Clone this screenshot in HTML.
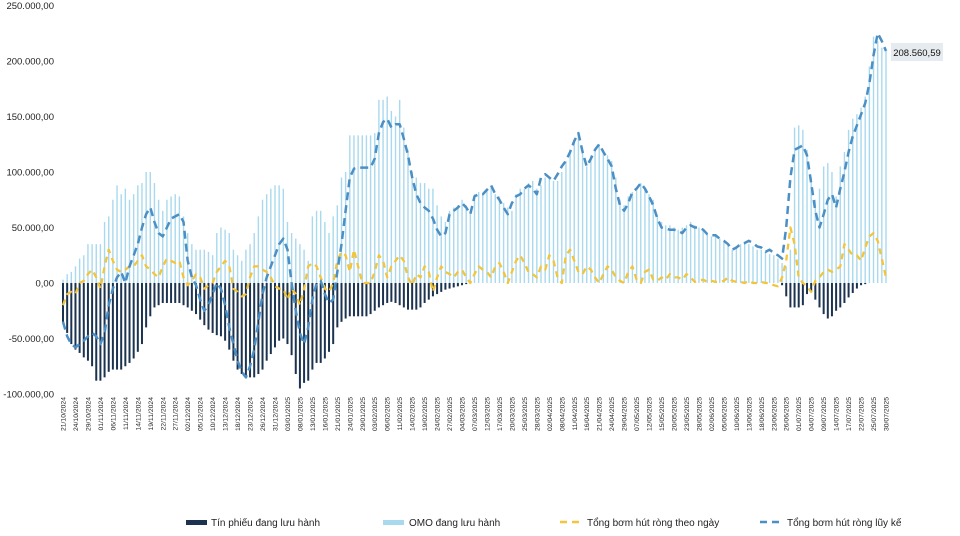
<!DOCTYPE html>
<html><head><meta charset="utf-8"><style>
html,body{margin:0;padding:0;background:#fff;}
svg{display:block;font-family:"Liberation Sans",sans-serif;}
</style></head><body>
<svg id="chart" width="960" height="536" viewBox="0 0 960 536" xmlns="http://www.w3.org/2000/svg">
<g id="yaxis"></g>
<g id="xaxis"></g>
<g id="bars"></g>
<g id="lines"></g>
<g>
<rect x="891" y="43" width="52" height="18" fill="#e6ebf0"/>
<text x="917" y="56" font-size="9.5" text-anchor="middle" fill="#111">208.560,59</text>
</g>
<g font-size="10" fill="#222">
<g><rect x="186" y="520" width="21" height="5" fill="#1c3350"/><text x="211" y="526">Tín phiếu đang lưu hành</text></g>
<g><rect x="383" y="520" width="21" height="5" fill="#a9d9ee"/><text x="409" y="526">OMO đang lưu hành</text></g>
<g><line x1="560" y1="522" x2="580" y2="522" stroke="#f2c53a" stroke-width="2.5" stroke-dasharray="7,5"/><text x="587" y="526">Tổng bơm hút ròng theo ngày</text></g>
<g><line x1="760" y1="522" x2="781" y2="522" stroke="#4b8fc4" stroke-width="2.5" stroke-dasharray="7,5"/><text x="787" y="526">Tổng bơm hút ròng lũy kế</text></g>
</g>
</svg>
<script>
const dateLabels = ["21/10/2024","24/10/2024","29/10/2024","01/11/2024","06/11/2024","11/11/2024","14/11/2024","19/11/2024","22/11/2024","27/11/2024","02/12/2024","05/12/2024","10/12/2024","13/12/2024","18/12/2024","23/12/2024","26/12/2024","31/12/2024","03/01/2025","08/01/2025","13/01/2025","16/01/2025","21/01/2025","24/01/2025","29/01/2025","03/02/2025","06/02/2025","11/02/2025","14/02/2025","19/02/2025","24/02/2025","27/02/2025","04/03/2025","07/03/2025","12/03/2025","17/03/2025","20/03/2025","25/03/2025","28/03/2025","02/04/2025","08/04/2025","11/04/2025","16/04/2025","21/04/2025","24/04/2025","29/04/2025","07/05/2025","12/05/2025","15/05/2025","20/05/2025","23/05/2025","28/05/2025","02/06/2025","05/06/2025","10/06/2025","13/06/2025","18/06/2025","23/06/2025","26/06/2025","01/07/2025","04/07/2025","09/07/2025","14/07/2025","17/07/2025","22/07/2025","25/07/2025","30/07/2025"];
const yTicks = [250000,200000,150000,100000,50000,0,-50000,-100000];
const yTickLabels = ["250.000,00","200.000,00","150.000,00","100.000,00","50.000,00","0,00","-50.000,00","-100.000,00"];
// values in thousands (one per business day)
const omo = [3,8,10, 15,22,25, 35,35,35, 35,55,60, 75,88,80, 85,75,80, 88,90,100, 100,90,75, 65,75,78, 80,78,60, 45,35,30, 30,30,28, 25,45,50, 48,45,30, 25,20,30, 35,45,60, 75,80,85, 88,88,85, 55,45,40, 35,30,20, 60,65,65, 55,45,60, 70,95,100, 133,133,133, 133,133,133, 135,165,165, 168,155,150, 165,140,120, 100,95,90, 90,85,85, 70,60,55, 65,68,70, 75,70,65, 80,82,80, 85,88,80, 78,72,68, 65,80,85, 85,90,92, 85,88,95, 95,92,92, 100,110,120, 130,135,120, 105,115,120, 125,120,115, 110,95,75, 70,78,82, 85,90,85, 80,75,60, 55,52,52, 50,48,50, 52,55,52, 50,48,45, 42,42,40, 38,35,30, 32,35,36, 35,33,30, 30,28,26, 25,22,18, 15,30,140, 142,138,120, 95,75,85, 105,108,100, 78,105,118, 138,148,152, 158,168,195, 222,218,212, 209];
const tinPhieu = [-35,-45,-55, -60,-63,-67, -70,-75,-88, -88,-85,-80, -78,-78,-78, -75,-72,-68, -62,-55,-40, -30,-22,-20, -18,-18,-18, -18,-18,-20, -22,-25,-28, -33,-38,-42, -45,-47,-48, -52,-60,-70, -78,-82,-85, -85,-85,-82, -78,-70,-64, -58,-52,-50, -55,-65,-82, -95,-90,-88, -78,-72,-72, -68,-62,-55, -40,-35,-32, -30,-30,-30, -30,-30,-28, -25,-22,-20, -18,-17,-18, -20,-22,-24, -24,-24,-22, -18,-15,-12, -10,-8,-6, -5,-4,-3, -2,-1,0, 0,0,0, 0,0,0, 0,0,0, 0,0,0, 0,0,0, 0,0,0, 0,0,0, 0,0,0, 0,0,0, 0,0,0, 0,0,0, 0,0,0, 0,0,0, 0,0,0, 0,0,0, 0,0,0, 0,0,0, 0,0,0, 0,0,0, 0,0,0, 0,0,0, 0,0,0, 0,0,0, 0,0,0, 0,0,-2, -12,-22,-22, -22,-20,-10, -8,-15,-22, -28,-32,-30, -25,-22,-18, -13,-9,-5, -2,-1,0, 0,0,0, 0];
const daily = [-20,-10,-8, -10,0,2, 8,12,5, -5,15,30, 20,12,10, 12,15,15, 20,25,15, 12,8,5, 15,22,20, 18,20,5, -2,2,8, 5,-5,-2, 0,10,15, 20,15,-5, -8,-12,-10, 5,15,15, 12,10,5, -3,-5,-5, -15,-5,-10, -20,-5,15, 18,15,5, -5,-8,0, 20,28,25, 10,30,15, 0,0,0, 10,25,20, 5,15,20, 25,20,5, -2,8,5, 15,10,-8, 5,15,10, 8,5,10, 12,5,0, 8,15,12, 10,5,15, 18,10,0, 10,20,25, 18,10,8, 5,15,12, 25,20,5, 0,25,30, 20,10,8, 15,12,5, 0,8,15, 12,5,2, 0,10,15, 3,0,10, 12,3,2, 5,3,8, 5,5,3, 8,5,1, 2,3,1, 2,1,1, 2,5,2, 1,1,0, 2,0,0, 1,0,0, -2,-3,5, 20,50,35, 5,0,-3, -8,2,5, 10,12,10, 12,15,35, 30,25,25, 20,32,42, 45,38,22, 5];
const cumulative = [-35,-48,-55, -58,-55,-52, -48,-45,-48, -55,-45,-20, -5,5,10, 0,15,25, 35,50,62, 68,55,45, 42,50,58, 60,62,55, 20,5,-2, -15,-25,-20, -10,0,-5, -20,-40,-55, -70,-80,-85, -75,-60,-35, -10,5,15, 25,35,40, 30,0,-25, -45,-55,-40, -15,0,2, -10,-18,-15, 10,35,65, 95,103,104, 104,104,104, 112,135,145, 148,140,143, 143,130,115, 95,80,72, 68,65,58, 48,42,45, 62,65,68, 72,68,62, 78,80,80, 84,88,80, 75,68,62, 72,78,80, 85,88,85, 80,95,98, 95,92,98, 105,110,118, 128,135,118, 105,112,120, 125,118,112, 105,85,70, 65,72,82, 85,90,85, 78,70,58, 50,49,48, 48,47,45, 50,52,50, 50,48,44, 43,43,40, 38,35,30, 32,35,36, 38,36,33, 32,28,30, 27,25,22, 50,95,120, 122,124,115, 90,65,50, 62,75,80, 68,85,100, 118,132,142, 152,162,180, 205,225,218, 209];

const NS = "http://www.w3.org/2000/svg";
const X0 = 63, X1 = 886, Y0 = 283, PXK = 1.11;
const nBars = omo.length;
function xBar(i){ return X0 + (X1 - X0) * i / (nBars - 1); }
function xLabel(i){ return X0 + (X1 - X0) * i / (dateLabels.length - 1); }
function yK(v){ return Y0 - v * PXK; }
function yV(v){ return yK(v / 1000); }
function mk(tag, attrs, parent){
  const e = document.createElementNS(NS, tag);
  for (const k in attrs) e.setAttribute(k, attrs[k]);
  parent.appendChild(e); return e;
}
const yaxis = document.getElementById('yaxis');
yTicks.forEach((t, i) => {
  const tx = mk('text', {x: 54, y: yV(t) + 3.5, 'font-size': 9.5, 'text-anchor': 'end', fill: '#222'}, yaxis);
  
  
  tx.textContent = yTickLabels[i];
});
const xaxis = document.getElementById('xaxis');
dateLabels.forEach((d, i) => {
  const x = xLabel(i) + 2.5;
  const tx = mk('text', {x: x, y: 397, 'font-size': 6.8, 'text-anchor': 'end', fill: '#222', transform: 'rotate(-90 ' + x + ' 397)'}, xaxis);
  
  
  tx.textContent = d;
});
const bars = document.getElementById('bars');
for (let i = 0; i < nBars; i++) {
  const x = xBar(i);
  if (omo[i] !== 0) {
    const r = mk('rect', {x: x - 0.7, y: Math.min(yK(omo[i]), Y0), width: 1.4, height: Math.abs(omo[i] * PXK), fill: '#a9d9ee'}, bars);
    
    
  }
  if (tinPhieu[i] !== 0) {
    const r = mk('rect', {x: x - 1, y: Math.min(yK(tinPhieu[i]), Y0), width: 2, height: Math.abs(tinPhieu[i] * PXK), fill: '#1c3350'}, bars);
    
    
  }
}
const lines = document.getElementById('lines');
function pathOf(arr){ return arr.map((v, i) => (i ? 'L' : 'M') + xBar(i).toFixed(1) + ' ' + yK(v).toFixed(1)).join(' '); }
const pd = mk('path', {d: pathOf(daily), fill: 'none', stroke: '#f2c53a', 'stroke-width': 2.3, 'stroke-dasharray': '6,5', 'stroke-linejoin': 'round'}, lines);


const pc = mk('path', {d: pathOf(cumulative), fill: 'none', stroke: '#4b8fc4', 'stroke-width': 2.5, 'stroke-dasharray': '8,5', 'stroke-linejoin': 'round'}, lines);


</script>
</body></html>
